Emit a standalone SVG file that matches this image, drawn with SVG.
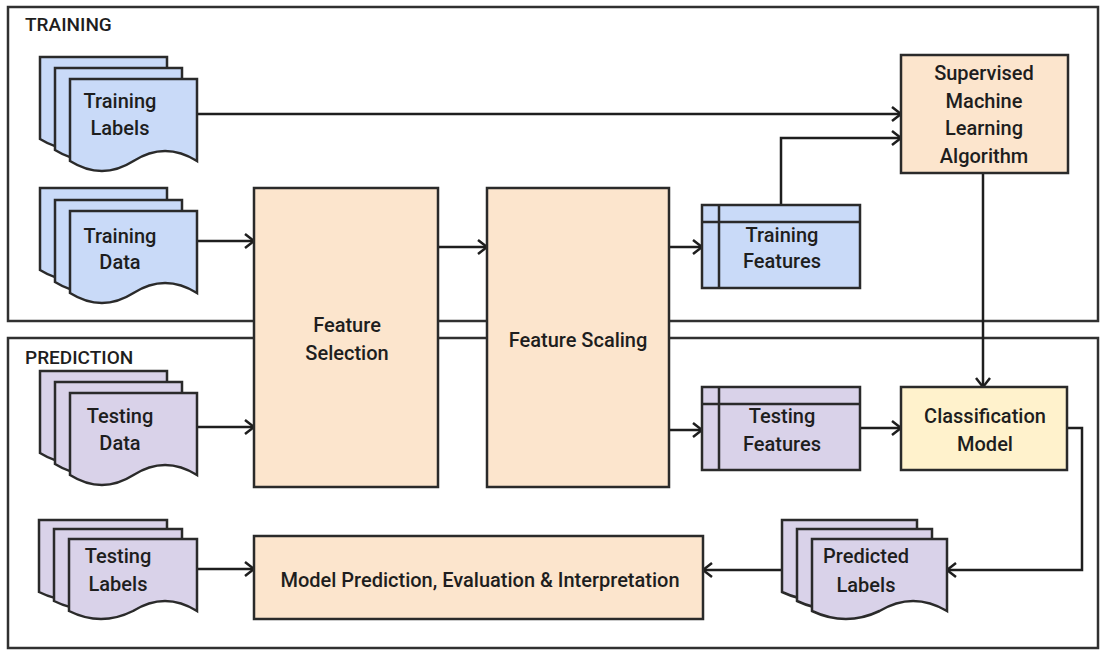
<svg xmlns="http://www.w3.org/2000/svg" width="1102" height="650" viewBox="0 0 1102 650">
<defs>
<style>
.frame{fill:none;stroke:#303030;stroke-width:2.5}
.box{stroke:#2a2a2a;stroke-width:2.5}
.blue{fill:#c9daf8}
.purple{fill:#d9d2e9}
.orange{fill:#fce5cd}
.yellow{fill:#fff2cc}
.edge{fill:none;stroke:#1e1e1e;stroke-width:2.5}
text{font-family:Roboto,"Liberation Sans",Arial,sans-serif;font-size:20px;font-weight:500;fill:#1e1e1e;text-anchor:middle}
.title{text-anchor:start;font-size:19px}
</style>
<marker id="arr" markerUnits="userSpaceOnUse" markerWidth="14" markerHeight="18" refX="11" refY="8" orient="auto" overflow="visible">
<path d="M2,1 L11,8 L2,15" fill="none" stroke="#1e1e1e" stroke-width="2.5"/>
</marker>
<path id="docT" d="M0,0 H127 V82 Q95,62 63.5,82 Q32,102 0,82 Z"/>
<path id="docS" d="M0,0 H128 V72 Q96,52 64,72 Q32,88 0,72 Z"/>
<path id="docP" d="M0,0 H135 V72 Q101,52 67.5,72 Q34,88 0,72 Z"/>
</defs>

<g id="frames">
<rect class="frame" x="8" y="7" width="1090" height="314"/>
<text class="title" x="25" y="31">TRAINING</text>
<rect class="frame" x="8" y="338" width="1090" height="310"/>
<text class="title" x="25" y="364">PREDICTION</text>
</g>

<g id="connectors">
<path class="edge" marker-end="url(#arr)" d="M197,114 H901"/>
<path class="edge" marker-end="url(#arr)" d="M781,205 V138 H901"/>
<path class="edge" marker-end="url(#arr)" d="M197,241 H254"/>
<path class="edge" marker-end="url(#arr)" d="M197,427 H254"/>
<path class="edge" marker-end="url(#arr)" d="M438,247 H487"/>
<path class="edge" marker-end="url(#arr)" d="M669,247 H702"/>
<path class="edge" marker-end="url(#arr)" d="M669,430 H702"/>
<path class="edge" marker-end="url(#arr)" d="M860,428 H901"/>
<path class="edge" marker-end="url(#arr)" d="M983,173 V387"/>
<path class="edge" marker-end="url(#arr)" d="M1067,428 H1082 V570 H947"/>
<path class="edge" marker-end="url(#arr)" d="M781,570 H703"/>
<path class="edge" marker-end="url(#arr)" d="M197,569 H254"/>
</g>

<g id="training-labels">
<use href="#docT" class="box blue" x="40" y="57"/>
<use href="#docT" class="box blue" x="55" y="68"/>
<use href="#docT" class="box blue" x="70" y="79"/>
<text x="120" y="108">Training</text>
<text x="120" y="135">Labels</text>
</g>

<g id="training-data">
<use href="#docT" class="box blue" x="40" y="188"/>
<use href="#docT" class="box blue" x="55" y="200"/>
<use href="#docT" class="box blue" x="70" y="211"/>
<text x="120" y="243">Training</text>
<text x="120" y="269">Data</text>
</g>

<g id="testing-data">
<use href="#docT" class="box purple" x="40" y="371"/>
<use href="#docT" class="box purple" x="55" y="382"/>
<use href="#docT" class="box purple" x="70" y="393"/>
<text x="120" y="423">Testing</text>
<text x="120" y="450">Data</text>
</g>

<g id="testing-labels">
<use href="#docS" class="box purple" x="39" y="520"/>
<use href="#docS" class="box purple" x="54" y="529"/>
<use href="#docS" class="box purple" x="69" y="539"/>
<text x="118" y="563">Testing</text>
<text x="118" y="591">Labels</text>
</g>

<g id="feature-selection">
<rect class="box orange" x="254" y="188" width="184" height="299"/>
<text x="347" y="332">Feature</text>
<text x="347" y="360">Selection</text>
</g>

<g id="feature-scaling">
<rect class="box orange" x="487" y="188" width="182" height="299"/>
<text x="578" y="347">Feature Scaling</text>
</g>

<g id="training-features">
<rect class="box blue" x="702" y="205" width="158" height="83"/>
<path class="box" fill="none" d="M719,205 V288 M702,222 H860"/>
<text x="782" y="242">Training</text>
<text x="782" y="268">Features</text>
</g>

<g id="testing-features">
<rect class="box purple" x="702" y="387" width="158" height="83"/>
<path class="box" fill="none" d="M719,387 V470 M702,404 H860"/>
<text x="782" y="423">Testing</text>
<text x="782" y="451">Features</text>
</g>

<g id="supervised-ml">
<rect class="box orange" x="901" y="55" width="167" height="118"/>
<text x="984" y="80">Supervised</text>
<text x="984" y="108">Machine</text>
<text x="984" y="135">Learning</text>
<text x="984" y="163">Algorithm</text>
</g>

<g id="classification-model">
<rect class="box yellow" x="901" y="387" width="166" height="83"/>
<text x="985" y="423">Classification</text>
<text x="985" y="451">Model</text>
</g>

<g id="predicted-labels">
<use href="#docP" class="box purple" x="782" y="520"/>
<use href="#docP" class="box purple" x="797" y="529"/>
<use href="#docP" class="box purple" x="812" y="539"/>
<text x="866" y="563">Predicted</text>
<text x="866" y="592">Labels</text>
</g>

<g id="model-prediction">
<rect class="box orange" x="254" y="536" width="449" height="83"/>
<text x="480" y="587">Model Prediction, Evaluation &amp; Interpretation</text>
</g>
</svg>
